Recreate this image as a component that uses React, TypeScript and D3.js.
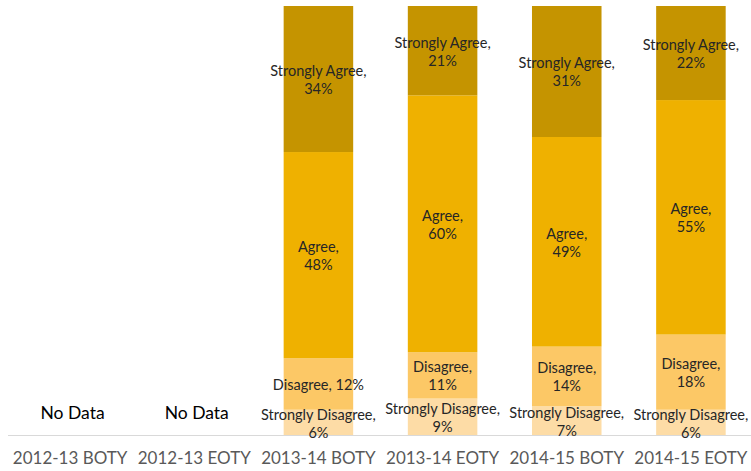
import React from 'react';
import * as d3 from 'd3';

// survey periods along the x axis
const categories = ['2012-13 BOTY', '2012-13 EOTY', '2013-14 BOTY', '2013-14 EOTY', '2014-15 BOTY', '2014-15 EOTY'];
const seriesNames = ['Strongly Disagree', 'Disagree', 'Agree', 'Strongly Agree'];

// percentages per period (null = no data collected)
const stronglyDisagree = [null, null, 6, 8.6, 6.8, 6];
const disagree = [null, null, 12, 10.8, 13.9, 17.5];
const agree = [null, null, 48, 59.8, 48.8, 54.6];
const stronglyAgree = [null, null, 34, 20.8, 30.5, 21.9];

const colors = ['#FDDCA6', '#FCC866', '#EFB100', '#C59400'];
// labels that Excel kept on one line
const oneLine = ['2013-14 BOTY|Disagree'];

const W = 751;
const H = 471;
const font = 'Lato, "Open Sans", sans-serif';

export default function App() {
  const rows = categories.map((c, i) => ({
    cat: c,
    'Strongly Disagree': stronglyDisagree[i] ?? 0,
    Disagree: disagree[i] ?? 0,
    Agree: agree[i] ?? 0,
    'Strongly Agree': stronglyAgree[i] ?? 0,
    hasData: stronglyDisagree[i] != null,
  }));

  const x = d3.scaleBand().domain(categories).range([8, 753]);
  const barW = x.bandwidth() * 0.56;
  const y = d3.scaleLinear().domain([0, 100]).range([435.5, 6]);
  const stacked = d3.stack<any>().keys(seriesNames)(rows);

  return (
    <svg width={W} height={H} style={{ position: 'absolute', left: 0, top: 0 }}>
      <rect width={W} height={H} fill="#fff" />
      {stacked.map((s, si) => (
        <g key={s.key}>
          {s.map((d, i) =>
            rows[i].hasData ? (
              <rect
                key={i}
                x={x(categories[i])! + (x.bandwidth() - barW) / 2}
                y={y(d[1])}
                width={barW}
                height={y(d[0]) - y(d[1])}
                fill={colors[si]}
              />
            ) : null
          )}
        </g>
      ))}
      <line x1={8} x2={751} y1={435.5} y2={435.5} stroke="#D9D9D9" strokeWidth={1} />
      {stacked.map((s) =>
        s.map((d, i) => {
          if (!rows[i].hasData) return null;
          const cx = x(categories[i])! + x.bandwidth() / 2;
          const cy = (y(d[0]) + y(d[1])) / 2;
          const pct = Math.round(d[1] - d[0]) + '%';
          const single = oneLine.includes(categories[i] + '|' + s.key);
          return (
            <text
              key={s.key + i}
              x={cx}
              textAnchor="middle"
              fontFamily={font}
              fontSize={14.5}
              fill="#262626"
            >
              {single ? (
                <tspan x={cx} y={cy + 6}>{s.key + ', ' + pct}</tspan>
              ) : (
                <>
                  <tspan x={cx} y={cy - 3}>{s.key + ','}</tspan>
                  <tspan x={cx} y={cy + 15}>{pct}</tspan>
                </>
              )}
            </text>
          );
        })
      )}
      {rows.map((r) =>
        r.hasData ? null : (
          <text
            key={'nd' + r.cat}
            x={x(r.cat)! + x.bandwidth() / 2 + 2.5}
            y={419}
            textAnchor="middle"
            fontFamily={font}
            fontSize={17.5}
            fill="#000"
          >
            No Data
          </text>
        )
      )}
      {categories.map((c) => (
        <text
          key={c}
          x={x(c)! + x.bandwidth() / 2}
          y={464}
          textAnchor="middle"
          fontFamily={font}
          fontSize={17}
          fill="#595959"
        >
          {c}
        </text>
      ))}
    </svg>
  );
}
